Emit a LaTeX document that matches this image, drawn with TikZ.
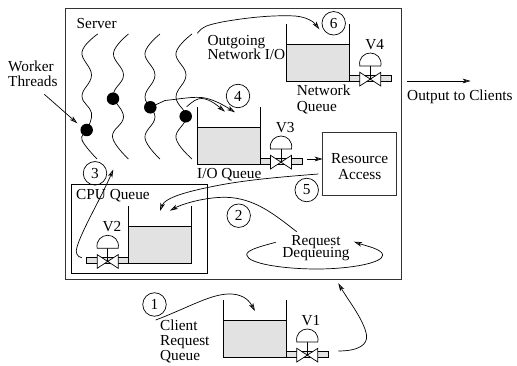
\documentclass[tikz,border=0pt]{standalone}
\usepackage{fontspec}
\setmainfont{Liberation Serif}
\usetikzlibrary{arrows.meta}
\definecolor{waterfill}{gray}{0.885}
\tikzset{
  flow/.style={line width=.7pt,-{Stealth[length=8pt,width=4.6pt,inset=2.2pt,fill=black!45]}},
  wire/.style={line width=.7pt},
  thread/.style={line width=.7pt},
  dot/.style={circle,fill=black,inner sep=0pt,minimum size=12.5pt},
  step num/.style={circle,draw,line width=.7pt,inner sep=0pt,minimum size=23.5pt},
  lbl/.style={inner sep=0pt,align=left,anchor=west,font=\fontsize{15.3}{15.3}\selectfont},
  clbl/.style={inner sep=0pt,align=center,font=\fontsize{15.3}{15.3}\selectfont},
  pics/tankvalve/.style={code={
    % tank, origin at its outlet corner
    \fill[waterfill] (-63,-36.7) rectangle (0,0);
    \draw[line width=.8pt] (-63,-57) -- (-63,0) -- (0,0) -- (0,-57);
    \draw[line width=.8pt] (-63,-36.7) -- (0,-36.7);
    % pipe
    \draw[line width=.7pt,fill=waterfill] (0,-5.7) rectangle (42,0);
    % valve
    \draw[line width=.7pt,fill=white] (10.5,-8.7) -- (31.5,5) -- (31.5,-8.7) -- (10.5,5) -- cycle;
    \draw[line width=.7pt] (21,-1.7) -- (21,-15);
    \draw[line width=.7pt,fill=white] (10.5,-15) -- (31.5,-15) .. controls (33,-23) and (27,-28) .. (21,-28) .. controls (15,-28) and (9,-23) .. (10.5,-15) -- cycle;
  }}
}
\begin{document}
\begin{tikzpicture}[x=1pt,y=-1pt]
  \useasboundingbox (0,0) rectangle (517,366);

  % Boxes
  \node[draw=black!80,line width=.9pt,minimum width=336pt,minimum height=271pt,inner sep=0pt] (server) at (233.5,143.5) {};
  \node[draw,line width=.8pt,minimum width=136.4pt,minimum height=89pt,inner sep=0pt] (cpubox) at (139.5,228.5) {};
  \node[draw=black!80,line width=.8pt,minimum width=74pt,minimum height=62.6pt,inner sep=0pt] (resource) at (359.7,164) {};
  \node[clbl] at (359.7,167) {Resource\\[.7pt]Access};

  % Threads
  \draw[thread] plot[smooth,tension=.7] coordinates {(97.7,34) (82,52) (91.5,75) (82,96) (91.5,113) (87,130) (82,140) (97,159)};
  \draw[thread] plot[smooth,tension=.7] coordinates {(128.5,34) (113.5,53) (123.5,75) (113.5,95) (123.5,117) (112.5,137) (128.5,159)};
  \draw[thread] plot[smooth,tension=.7] coordinates {(160,34) (145,53) (155,75) (145,97) (155,117) (145,138) (160,159)};
  \draw[thread] plot[smooth,tension=.7] coordinates {(192,34) (176,53) (186,75) (176,97) (186,117) (176,138) (192,159)};

  \node[dot] (th1) at (86.7,130) {};
  \node[dot] (th2) at (113,98.7) {};
  \node[dot] (th3) at (150.3,107.3) {};
  \node[dot] (th4) at (185.7,116.3) {};

  % Tanks and valves
  \pic at (260,164) {tankvalve};
  \pic at (349.3,81) {tankvalve};
  \pic at (286.3,357) {tankvalve};
  \pic[xscale=-1] at (128.7,263.3) {tankvalve};

  \node[clbl] (v1) at (311,320.7) {V1};
  \node[clbl] (v2) at (112,226.7) {V2};
  \node[clbl] (v3) at (285.3,128) {V3};
  \node[clbl] (v4) at (374.7,44.7) {V4};

  % Step numbers
  \node[step num,clbl] (s1) at (154.5,304.5) {1};
  \node[step num,clbl] (s2) at (238.7,215.7) {2};
  \node[step num,clbl] (s3) at (95,173.3) {3};
  \node[step num,clbl] (s4) at (238,96) {4};
  \node[step num,clbl] (s5) at (306.7,190) {5};
  \node[step num,clbl] (s6) at (333.7,23.3) {6};

  % Labels
  \node[lbl] (server lbl) at (76.5,24) {Server};
  \node[lbl] (workers) at (8,73.5) {Worker\\Threads};
  \node[lbl] (outgoing) at (207.3,47.5) {Outgoing\\[-1pt]Network I/O};
  \node[lbl] (ioq) at (197,175) {I/O Queue};
  \node[lbl] (cpuq) at (76,196) {CPU Queue};
  \node[lbl] (netq) at (296.7,99.5) {Network\\Queue};
  \node[lbl] (out) at (407,97) {Output to Clients};
  \node[lbl] (clientq) at (160,341.5) {Client\\Request\\Queue};
  \node[clbl] (deq) at (316,248) {Request\\[-3.8pt]Dequeuing};

  % Free ends
  \coordinate (c1a) at (155.7,320);
  \coordinate (c1b) at (255,311);
  \coordinate (c2a) at (338.3,351);
  \coordinate (c2b) at (338.3,283.3);
  \coordinate (c3a) at (275.7,242.3);
  \coordinate (c3b) at (354,241.7);
  \coordinate (c4a) at (296.7,231.7);
  \coordinate (c4b) at (170,210.7);
  \coordinate (c5a) at (318.3,174);
  \coordinate (c5b) at (160,211);
  \coordinate (c6a) at (81.7,257.7);
  \coordinate (c6b) at (113.3,169.5);
  \coordinate (c7a) at (307.3,159);
  \coordinate (c7b) at (322.7,159);
  \coordinate (c8b) at (235,112.3);
  \coordinate (c9a) at (186.7,106.7);
  \coordinate (c9b) at (225,111.7);
  \coordinate (c10a) at (44.3,94.3);
  \coordinate (c10b) at (77.3,123.3);
  \coordinate (c11a) at (197.3,33.3);
  \coordinate (c11b) at (319.3,29.3);
  \coordinate (c12a) at (407.3,81);
  \coordinate (c12b) at (470.7,81);

  % Edges
  \draw[flow] (c1a) .. controls (190,307) and (212,293) .. (232,294) .. controls (245,295) and (250,302) .. (c1b);
  \draw[flow] (c2a) .. controls (358,351) and (368,345) .. (366.5,335) .. controls (364,320) and (348,300) .. (c2b);
  \draw[flow] (c3a) .. controls (262,246) and (246,250) .. (246.7,255) .. controls (248,264) and (285,269) .. (316.7,269) .. controls (350,269) and (383,263) .. (382.7,255) .. controls (382,249) and (366,246) .. (c3b);
  \draw[flow] (c4a) .. controls (275,215) and (255,198) .. (226,197.3) .. controls (205,197) and (182,204) .. (c4b);
  \draw[flow] (c5a) .. controls (280,177) and (245,180) .. (215,186) .. controls (190,191) and (165,197) .. (c5b);
  \draw[flow] (c6a) .. controls (77,257) and (75,252) .. (77,247) .. controls (82,230) and (100,200) .. (c6b);
  \draw[flow] (c7a) -- (c7b);
  \draw[flow] (th3) -- (165,100.5) .. controls (180,99) and (195,96) .. (205,98) .. controls (215,100) and (225,106) .. (c8b);
  \draw[flow] (c9a) .. controls (192,102) and (197,98) .. (202,98.5) .. controls (210,99) and (218,106) .. (c9b);
  \draw[flow] (c10a) -- (c10b);
  \draw[flow] (c11a) .. controls (203,26) and (208,25) .. (222,22) .. controls (250,17) and (275,15) .. (295,16) .. controls (307,17) and (314,22) .. (c11b);
  \draw[flow] (c12a) -- (c12b);
\end{tikzpicture}
\end{document}
